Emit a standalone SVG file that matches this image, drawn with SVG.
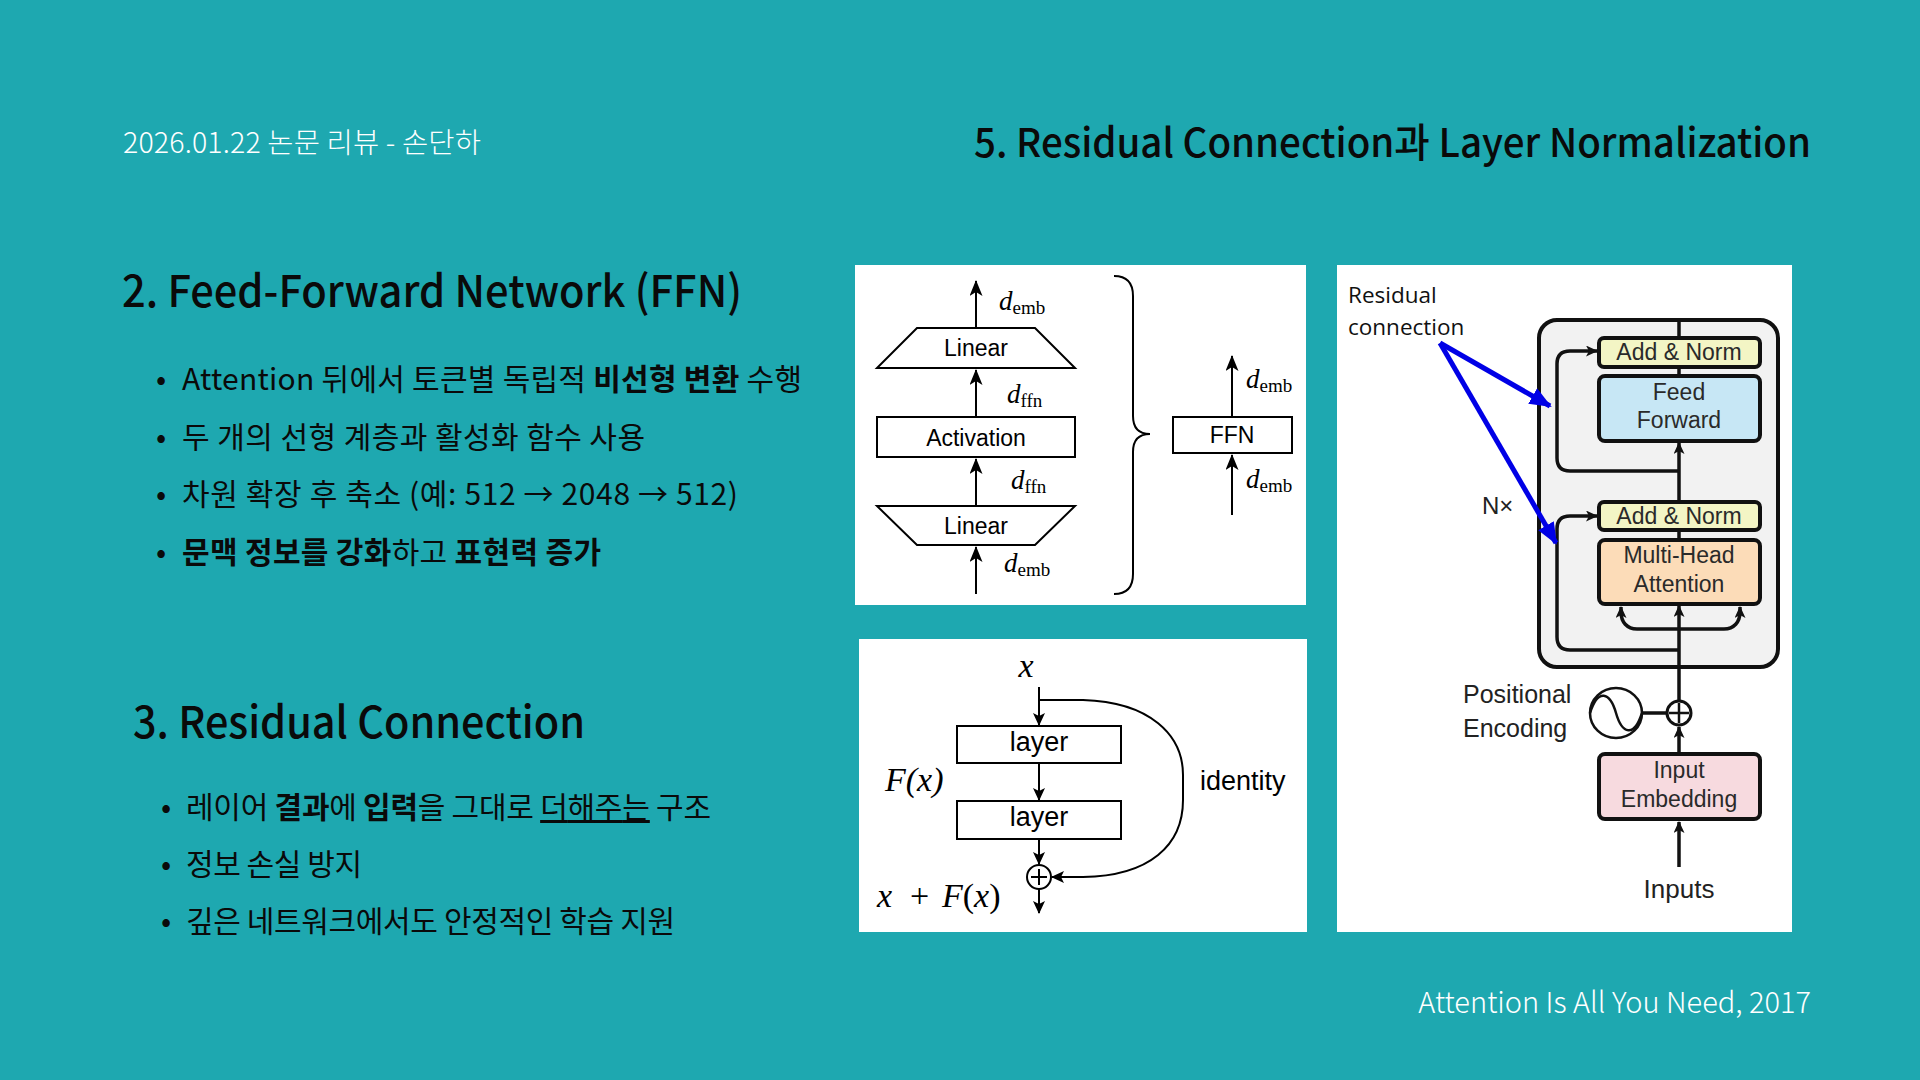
<svg xmlns="http://www.w3.org/2000/svg" width="1920" height="1080" viewBox="0 0 1920 1080">
<defs>
<style>
.kr{font-family:"Noto Sans CJK KR","Noto Sans",sans-serif;}
.w{fill:#ffffff;}
.blk{fill:#0a0a0a;}
.ar{font-family:"Liberation Sans",Arial,sans-serif;}
.mi{font-family:"Liberation Serif","Times New Roman",serif;font-style:italic;}
.mr{font-family:"Liberation Serif","Times New Roman",serif;}
.ln{stroke:#000;stroke-width:2;fill:none;}
.lnC{stroke:#111;stroke-width:3.5;fill:none;}
.bx{stroke:#000;stroke-width:2;fill:#fff;}
.bxC{stroke:#111;stroke-width:4;}
.tC{font-family:"Liberation Sans",Arial,sans-serif;font-size:23px;fill:#2a2a2a;text-anchor:middle;}
.blue{stroke:#0000e6;stroke-width:5;fill:none;}
</style>
<marker id="arrA" markerUnits="userSpaceOnUse" markerWidth="16" markerHeight="13" refX="15" refY="6.5" orient="auto"><path d="M0,0 L16,6.5 L0,13 L4,6.5 z" fill="#000"/></marker>
<marker id="arrB" markerUnits="userSpaceOnUse" markerWidth="13" markerHeight="12" refX="12" refY="6" orient="auto"><path d="M0,0 L13,6 L0,12 L3,6 z" fill="#000"/></marker>
<marker id="arrC" markerUnits="userSpaceOnUse" markerWidth="12" markerHeight="11" refX="11" refY="5.5" orient="auto"><path d="M0,0 L12,5.5 L0,11 L3,5.5 z" fill="#111"/></marker>
<marker id="arrBlue" markerUnits="userSpaceOnUse" markerWidth="22" markerHeight="18" refX="20" refY="9" orient="auto"><path d="M0,0 L22,9 L0,18 z" fill="#0000e6"/></marker>
</defs>

<rect width="1920" height="1080" fill="#1ea8b0"/>

<g id="header">
<text class="kr w" x="123" y="153" font-size="28.5" font-weight="300" textLength="358">2026.01.22 논문 리뷰 - 손단하</text>
<text class="kr blk" x="974" y="157" font-size="40" font-weight="500" textLength="837" lengthAdjust="spacingAndGlyphs">5. Residual Connection과 Layer Normalization</text>
<text class="kr w" x="1811" y="1013" font-size="29" font-weight="300" text-anchor="end">Attention Is All You Need, 2017</text>
</g>

<g id="ffn-text">
<text class="kr blk" x="122" y="307" font-size="44" font-weight="500" textLength="620" lengthAdjust="spacingAndGlyphs">2. Feed-Forward Network (FFN)</text>
<g class="kr blk" font-size="30">
<text x="161" y="390" text-anchor="middle">•</text>
<text x="182" y="390" textLength="620">Attention 뒤에서 토큰별 독립적 <tspan font-weight="700">비선형 변환</tspan> 수행</text>
<text x="161" y="448" text-anchor="middle">•</text>
<text x="182" y="448" textLength="463">두 개의 선형 계층과 활성화 함수 사용</text>
<text x="161" y="505" text-anchor="middle">•</text>
<text x="182" y="505" textLength="556">차원 확장 후 축소 (예: 512 → 2048 → 512)</text>
<text x="161" y="563" text-anchor="middle">•</text>
<text x="182" y="563" textLength="419"><tspan font-weight="700">문맥 정보를 강화</tspan>하고 <tspan font-weight="700">표현력 증가</tspan></text>
</g>
</g>

<g id="rc-text">
<text class="kr blk" x="133" y="738" font-size="44" font-weight="500" textLength="452" lengthAdjust="spacingAndGlyphs">3. Residual Connection</text>
<g class="kr blk" font-size="30">
<text x="166" y="818" text-anchor="middle">•</text>
<text x="186" y="818" textLength="525">레이어 <tspan font-weight="700">결과</tspan>에 <tspan font-weight="700">입력</tspan>을 그대로 <tspan text-decoration="underline">더해주는</tspan> 구조</text>
<text x="166" y="875" text-anchor="middle">•</text>
<text x="186" y="875" textLength="176">정보 손실 방지</text>
<text x="166" y="932" text-anchor="middle">•</text>
<text x="186" y="932" textLength="489">깊은 네트워크에서도 안정적인 학습 지원</text>
</g>
</g>

<!-- Panel A: FFN diagram -->
<g id="panel-ffn">
<rect x="855" y="265" width="451" height="340" fill="#fff"/>
<g id="ffn-connectors">
<path class="ln" d="M976,594 V547" marker-end="url(#arrA)"/>
<path class="ln" d="M976,506 V459" marker-end="url(#arrA)"/>
<path class="ln" d="M976,417 V370" marker-end="url(#arrA)"/>
<path class="ln" d="M976,328 V281" marker-end="url(#arrA)"/>
<path class="ln" d="M1232,515 V455" marker-end="url(#arrA)"/>
<path class="ln" d="M1232,417 V356" marker-end="url(#arrA)"/>
<path class="ln" d="M1114,276 Q1133,276 1133,296 L1133,416 Q1133,434 1150,434 Q1133,434 1133,452 L1133,574 Q1133,594 1114,594"/>
</g>
<g id="ffn-linear-top"><polygon class="bx" points="917,328 1035,328 1075,368 877,368"/><text class="ar" x="976" y="356" font-size="23" text-anchor="middle">Linear</text></g>
<g id="ffn-activation"><rect class="bx" x="877" y="417" width="198" height="40"/><text class="ar" x="976" y="446" font-size="23" text-anchor="middle">Activation</text></g>
<g id="ffn-linear-bot"><polygon class="bx" points="877,506 1075,506 1035,545 917,545"/><text class="ar" x="976" y="534" font-size="23" text-anchor="middle">Linear</text></g>
<g id="ffn-box"><rect class="bx" x="1173" y="417" width="119" height="36"/><text class="ar" x="1232" y="443" font-size="23" text-anchor="middle">FFN</text></g>
<g id="ffn-labels" font-size="27">
<text x="999" y="310"><tspan class="mi">d</tspan><tspan class="mr" font-size="19" dy="4">emb</tspan></text>
<text x="1007" y="403"><tspan class="mi">d</tspan><tspan class="mr" font-size="19" dy="4">ffn</tspan></text>
<text x="1011" y="489"><tspan class="mi">d</tspan><tspan class="mr" font-size="19" dy="4">ffn</tspan></text>
<text x="1004" y="572"><tspan class="mi">d</tspan><tspan class="mr" font-size="19" dy="4">emb</tspan></text>
<text x="1246" y="388"><tspan class="mi">d</tspan><tspan class="mr" font-size="19" dy="4">emb</tspan></text>
<text x="1246" y="488"><tspan class="mi">d</tspan><tspan class="mr" font-size="19" dy="4">emb</tspan></text>
</g>
</g>

<!-- Panel B: Residual block -->
<g id="panel-res">
<rect x="859" y="639" width="448" height="293" fill="#fff"/>
<g id="res-connectors">
<path class="ln" d="M1039,687 V725" marker-end="url(#arrB)"/>
<path class="ln" d="M1039,763 V800" marker-end="url(#arrB)"/>
<path class="ln" d="M1039,839 V864" marker-end="url(#arrB)"/>
<path class="ln" d="M1039,889 V913" marker-end="url(#arrB)"/>
<path class="ln" d="M1039,700 H1083 C1150,702 1183,735 1183,775 L1183,800 C1183,845 1150,876 1083,877 L1052,877" marker-end="url(#arrB)"/>
</g>
<g id="res-layer1"><rect class="bx" x="957" y="726" width="164" height="37"/><text class="ar" x="1039" y="751" font-size="27" text-anchor="middle">layer</text></g>
<g id="res-layer2"><rect class="bx" x="957" y="801" width="164" height="38"/><text class="ar" x="1039" y="826" font-size="27" text-anchor="middle">layer</text></g>
<g id="res-plus"><circle cx="1039" cy="877" r="12" fill="#fff" stroke="#000" stroke-width="2"/><path class="ln" d="M1031,877 H1047 M1039,869 V885"/></g>
<text class="mi" x="1026" y="677" font-size="34" text-anchor="middle">x</text>
<text class="mi" x="885" y="791" font-size="34">F<tspan class="mr">(</tspan>x<tspan class="mr">)</tspan></text>
<text x="877" y="907" font-size="34"><tspan class="mi">x</tspan><tspan class="mr" x="910">+</tspan><tspan class="mi" x="942">F</tspan><tspan class="mr">(</tspan><tspan class="mi">x</tspan><tspan class="mr">)</tspan></text>
<text class="ar" x="1200" y="790" font-size="27">identity</text>
</g>

<!-- Panel C: Transformer encoder -->
<g id="panel-enc">
<rect x="1337" y="265" width="455" height="667" fill="#fff"/>
<rect id="enc-block" x="1539" y="320" width="239" height="347" rx="18" fill="#f2f2f2" stroke="#111" stroke-width="4"/>
<g id="enc-connectors">
<path class="lnC" d="M1679,867 V822" marker-end="url(#arrC)"/>
<path class="lnC" d="M1679,753 V727" marker-end="url(#arrC)"/>
<path class="lnC" d="M1679,701 V606" marker-end="url(#arrC)"/>
<path class="lnC" d="M1679,629 H1637 C1627,629 1621,622 1621,612 L1621,607" marker-end="url(#arrC)"/>
<path class="lnC" d="M1679,629 H1724 C1734,629 1740,622 1740,612 L1740,607" marker-end="url(#arrC)"/>
<path class="lnC" d="M1679,540 V530"/>
<path class="lnC" d="M1679,502 V443" marker-end="url(#arrC)"/>
<path class="lnC" d="M1679,376 V367"/>
<path class="lnC" d="M1679,338 V320"/>
<path class="lnC" d="M1679,471 H1570 Q1557,471 1557,458 V364 Q1557,351 1570,351 H1597" marker-end="url(#arrC)"/>
<path class="lnC" d="M1679,650 H1570 Q1557,650 1557,637 V529 Q1557,516 1570,516 H1597" marker-end="url(#arrC)"/>
<path class="lnC" d="M1642,713 H1667"/>
<path class="blue" d="M1440,343 L1550,406" marker-end="url(#arrBlue)"/>
<path class="blue" d="M1440,343 L1556,543" marker-end="url(#arrBlue)"/>
</g>
<g id="enc-addnorm1"><rect class="bxC" x="1599" y="338" width="161" height="29" rx="5" fill="#f3f5c5"/><text class="tC" x="1679" y="360">Add &amp; Norm</text></g>
<g id="enc-ff"><rect class="bxC" x="1599" y="376" width="161" height="65" rx="6" fill="#c7e7f5"/><text class="tC" x="1679" y="400">Feed</text><text class="tC" x="1679" y="428">Forward</text></g>
<g id="enc-addnorm2"><rect class="bxC" x="1599" y="502" width="161" height="28" rx="5" fill="#f3f5c5"/><text class="tC" x="1679" y="524">Add &amp; Norm</text></g>
<g id="enc-mha"><rect class="bxC" x="1599" y="540" width="161" height="64" rx="6" fill="#fcdcb8"/><text class="tC" x="1679" y="563">Multi-Head</text><text class="tC" x="1679" y="592">Attention</text></g>
<g id="enc-emb"><rect class="bxC" x="1599" y="754" width="161" height="65" rx="6" fill="#f7dadf"/><text class="tC" x="1679" y="778">Input</text><text class="tC" x="1679" y="807">Embedding</text></g>
<g id="enc-plus"><circle cx="1679" cy="713" r="12" fill="#fff" stroke="#111" stroke-width="3"/><path d="M1669,713 H1689 M1679,703 V723" stroke="#111" stroke-width="2.5"/></g>
<g id="enc-pe"><ellipse cx="1616" cy="713" rx="26" ry="25" fill="#fff" stroke="#111" stroke-width="2.5"/><path d="M1590,713 C1598,688 1610,692 1616,713 C1622,734 1634,738 1642,713" fill="none" stroke="#111" stroke-width="2.5"/></g>
<text class="ar" x="1463" y="703" font-size="25" fill="#222">Positional</text>
<text class="ar" x="1463" y="737" font-size="25" fill="#222">Encoding</text>
<text class="ar" x="1482" y="514" font-size="24" fill="#222">N×</text>
<text class="ar" x="1679" y="898" font-size="26" fill="#222" text-anchor="middle">Inputs</text>
<text x="1348" y="303" font-family="Open Sans, sans-serif" font-size="22.5" fill="#111">Residual</text>
<text x="1348" y="335" font-family="Open Sans, sans-serif" font-size="22.5" fill="#111">connection</text>
</g>
</svg>
